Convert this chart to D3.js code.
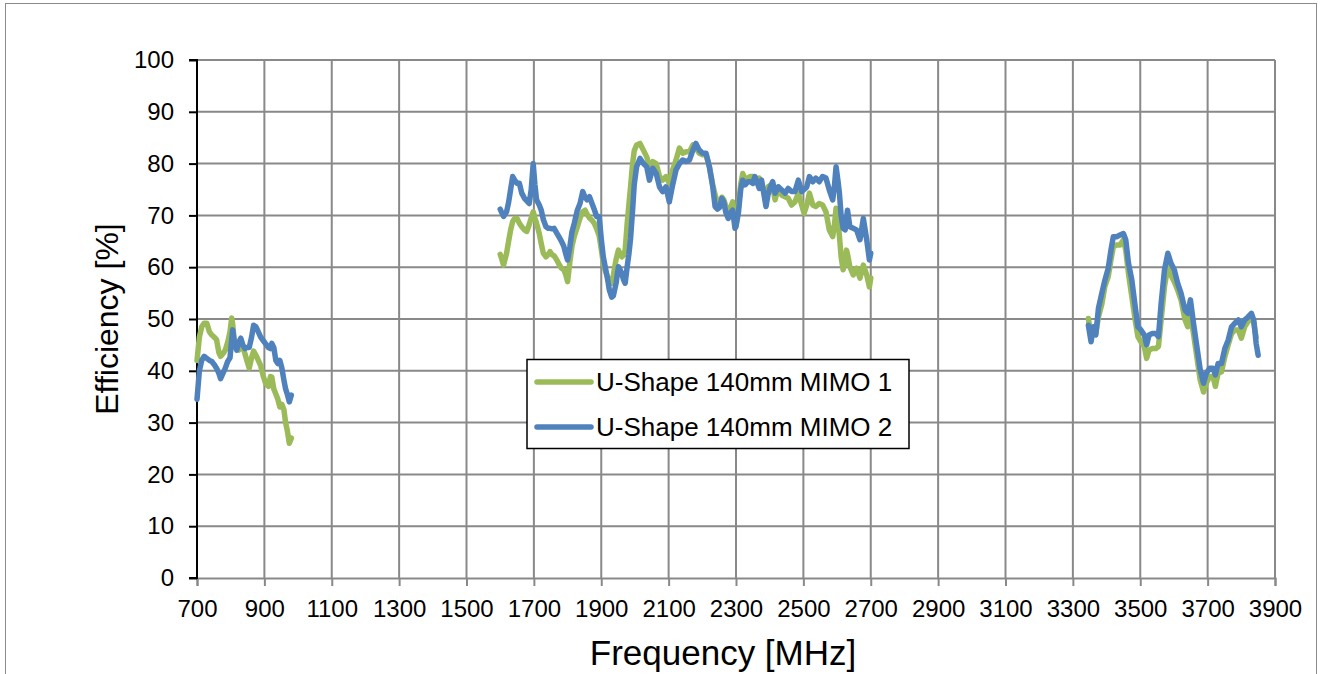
<!DOCTYPE html>
<html>
<head>
<meta charset="utf-8">
<script src="https://cdn.jsdelivr.net/npm/d3@7"></script>
<style>
  html, body { margin: 0; padding: 0; background: #fff; }
  svg { display: block; }
  text { font-family: "Liberation Sans", Arial, sans-serif; fill: #000; }
</style>
</head>
<body>
<svg id="chart" width="1320" height="674"></svg>
<script>
// Measured efficiency of two MIMO antennas (U-Shape 140 mm), three bands.
const seriesNames = ["U-Shape 140mm MIMO 1", "U-Shape 140mm MIMO 2"];
const seriesColors = ["#9BBB59", "#4F81BD"];

const xTicks = [700, 900, 1100, 1300, 1500, 1700, 1900, 2100, 2300, 2500, 2700, 2900, 3100, 3300, 3500, 3700, 3900];
const yTicks = [0, 10, 20, 30, 40, 50, 60, 70, 80, 90, 100];

// Low band 700-980 MHz
const lowFreq  = [700, 707, 714, 721, 729, 737, 744, 751, 758, 765, 770, 777, 784, 791, 798, 803, 806, 811, 818, 824, 830, 836, 842, 848, 855, 862, 868, 875, 882, 889, 897, 904, 912, 918, 922, 928, 934, 940, 946, 952, 958, 963, 968, 974, 980];
const lowMimo1 = [42, 46.5, 48.5, 49.2, 49.2, 47.5, 46.9, 46.5, 46, 43.5, 42.8, 43.3, 44, 45.5, 47.5, 50.2, 49, 45.5, 44.2, 44, 45, 44.5, 43.4, 42, 40.5, 42.5, 43.8, 43, 42, 41, 38.9, 37.5, 37, 38.9, 38.8, 36.5, 35.5, 34.5, 33, 33.5, 32.5, 30, 28.5, 26, 27];
const lowMimo2 = [34.5, 40, 42, 42.8, 42.4, 42, 41.8, 41.2, 40.5, 39.5, 38.5, 39.5, 40.5, 41.8, 42.5, 46, 47.9, 45.5, 44, 45.5, 46.3, 45, 44.3, 44.5, 44.5, 46.5, 48.8, 48.5, 47.5, 46.5, 45.8, 45.2, 44.5, 44.3, 45.3, 44.5, 42, 41.4, 42, 40.5, 38.2, 36.5, 35.5, 34, 35.3];

// Mid band 1600-2700 MHz
const midFreq  = [1600, 1605, 1610, 1619, 1625, 1631, 1637, 1643, 1650, 1657, 1664, 1672, 1679, 1686, 1692, 1698, 1703, 1708, 1716, 1722, 1728, 1736, 1743, 1748, 1754, 1760, 1768, 1775, 1782, 1789, 1795, 1800, 1807, 1813, 1820, 1829, 1837, 1845, 1852, 1858, 1865, 1872, 1879, 1886, 1894, 1900, 1906, 1912, 1918, 1924, 1931, 1936, 1944, 1951, 1956, 1961, 1966, 1971, 1977, 1982, 1987, 1993, 1998, 2005, 2015, 2025, 2035, 2043, 2053, 2063, 2073, 2082, 2092, 2102, 2112, 2122, 2132, 2142, 2152, 2162, 2172, 2181, 2191, 2201, 2211, 2221, 2231, 2238, 2245, 2251, 2258, 2264, 2270, 2277, 2284, 2290, 2297, 2300, 2307, 2314, 2320, 2327, 2335, 2342, 2350, 2356, 2362, 2369, 2376, 2383, 2389, 2395, 2402, 2409, 2416, 2426, 2436, 2446, 2455, 2465, 2475, 2485, 2495, 2502, 2510, 2518, 2528, 2537, 2547, 2557, 2567, 2577, 2587, 2592, 2597, 2603, 2607, 2612, 2618, 2624, 2628, 2631, 2638, 2648, 2658, 2668, 2678, 2688, 2696, 2700];
const midMimo1 = [62.5, 61.5, 60.4, 62.7, 65, 67.2, 68.8, 69.4, 69.4, 68.5, 67.8, 67.2, 66.9, 68.2, 69.5, 70.7, 69.5, 68.5, 66.5, 64.5, 62.7, 62, 62.5, 63, 62.4, 62.2, 61.4, 60.5, 59.8, 59.5, 58.5, 57.2, 61.1, 64, 66, 67.8, 69.5, 70.7, 71, 70.2, 69.5, 69.1, 68.5, 67.5, 66, 63.5, 60.8, 59.3, 58.2, 57.5, 56.9, 58.5, 61.5, 63.3, 62.5, 62, 62.3, 63.3, 68.5, 72, 75.5, 80, 82.5, 83.6, 83.9, 82.6, 81.3, 79.4, 80.4, 80, 77.5, 76.8, 77.5, 76.2, 78.8, 80.7, 83, 82, 82.3, 82.3, 83.6, 83, 82, 81.7, 81.7, 79.4, 75.9, 74, 72.5, 71.7, 73.5, 73, 71.7, 70.5, 71.5, 72.6, 69, 67.8, 71.5, 76, 78.1, 77, 77.2, 77.5, 77.5, 77, 77, 77.2, 75.5, 74.6, 74.3, 75.5, 75.8, 75.5, 73, 75.5, 73.9, 73.6, 73.3, 72, 72.6, 74.3, 72, 70.4, 72, 74.3, 72, 71.7, 72.3, 72, 70.7, 67.2, 65.9, 68, 71.4, 68.5, 66, 62, 59.5, 61.5, 63.3, 62.5, 60.1, 58.5, 59.8, 57.9, 60.4, 58.5, 56.2, 57.9];
const midMimo2 = [71.2, 70.5, 69.8, 70.7, 72.5, 75, 77.5, 76.8, 76.2, 76.2, 74.3, 73.3, 72.8, 72.3, 74.9, 80, 76, 73, 72, 71, 69.2, 67.8, 67.5, 67.5, 67.4, 67.5, 66.6, 65.8, 65, 64, 62.5, 61.4, 64, 66.8, 68.5, 71, 72.3, 74.6, 73.5, 73, 73.6, 72.4, 71.2, 69.8, 69.8, 65.5, 62, 60, 58, 55.6, 54.2, 54.5, 56.9, 60.1, 59.5, 58.8, 57.6, 56.9, 60.1, 62.5, 65.5, 71, 76, 79.4, 81, 80, 79.4, 76.8, 79.1, 78.1, 75.5, 74.6, 75.5, 72.6, 75.9, 78.8, 80, 80.7, 80.4, 80.7, 82.6, 83.9, 82.6, 82, 82, 79.4, 75.5, 71.7, 71.2, 71.5, 73.3, 72.5, 70.5, 69.4, 70.5, 71, 67.5, 68, 70.4, 75, 76.8, 75.9, 76.5, 76.5, 76.2, 77.5, 76.5, 75.2, 76.8, 74, 71.7, 74, 75.5, 76.5, 74.3, 75.5, 74.9, 74.3, 75.2, 74.6, 74.6, 76.8, 74.6, 75, 75.5, 77.5, 76.5, 77.2, 76.5, 77.5, 77.2, 74.9, 73, 75.5, 79.4, 76.5, 74.3, 70, 67.5, 67.2, 69.5, 71, 67.8, 67.5, 67.2, 65.3, 69.4, 65.3, 61.4, 62.7];

// High band 3346-3850 MHz
const highFreq  = [3346, 3354, 3361, 3368, 3376, 3386, 3395, 3405, 3413, 3420, 3430, 3440, 3450, 3457, 3465, 3475, 3485, 3493, 3502, 3512, 3519, 3526, 3536, 3546, 3554, 3562, 3572, 3582, 3591, 3601, 3611, 3621, 3633, 3641, 3649, 3658, 3668, 3678, 3688, 3696, 3706, 3716, 3723, 3731, 3741, 3751, 3761, 3771, 3781, 3791, 3800, 3810, 3820, 3830, 3837, 3844, 3850];
const highMimo1 = [50.1, 46.6, 47.9, 47.2, 50.4, 52.9, 56.3, 58.2, 61.4, 63.9, 64.3, 64.3, 65.3, 63.3, 58.8, 54.3, 49.8, 46.6, 45.6, 44.7, 42.4, 44, 44.3, 44.3, 44.7, 49.8, 56.3, 60.1, 58.5, 57.2, 55.6, 53.7, 49.8, 48.5, 51.1, 47.2, 42.7, 38.2, 35.9, 37.6, 38.9, 38.9, 37, 39.5, 39.8, 42.7, 45, 47.2, 47.9, 47.9, 46.3, 48.5, 49.5, 50.4, 49.2, 46.5, null];
const highMimo2 = [48.8, 45.6, 48.5, 46.9, 52.1, 55, 57.5, 59.8, 63.3, 65.9, 65.9, 66.2, 66.5, 65.3, 60.8, 57.5, 52.4, 48.5, 47.9, 46.9, 45, 46.9, 47.2, 47.2, 46.6, 53, 59.5, 62.7, 60.8, 59.5, 56.9, 55, 51.7, 51.1, 53.7, 49.2, 44.7, 40.2, 37.6, 39.5, 40.5, 40.5, 39.2, 41.4, 41.4, 44.3, 45.9, 48.5, 49.2, 49.8, 48.5, 49.8, 50.4, 51.1, 49.8, 45.3, 43];

const bands = [
  { freq: lowFreq,  values: [lowMimo1,  lowMimo2] },
  { freq: midFreq,  values: [midMimo1,  midMimo2] },
  { freq: highFreq, values: [highMimo1, highMimo2] }
];

const svg = d3.select("#chart");
const W = 1320, H = 674;
const plot = { left: 197, right: 1275, top: 60, bottom: 578 };

svg.append("rect").attr("width", W).attr("height", H).attr("fill", "#fff");
// chart frame
svg.append("rect")
  .attr("x", 5.5).attr("y", 3.5).attr("width", 1311).attr("height", 720)
  .attr("fill", "none").attr("stroke", "#8a8a8a").attr("stroke-width", 1);

const x = d3.scaleLinear().domain([700, 3900]).range([plot.left, plot.right]);
const y = d3.scaleLinear().domain([0, 100]).range([plot.bottom, plot.top]);

const gridColor = "#898989";

// horizontal gridlines
svg.append("g").selectAll("line").data(yTicks.filter(d => d > 0)).join("line")
  .attr("x1", plot.left).attr("x2", plot.right)
  .attr("y1", d => y(d)).attr("y2", d => y(d))
  .attr("stroke", gridColor).attr("stroke-width", 2);

// vertical gridlines
svg.append("g").selectAll("line").data(xTicks.filter(d => d > 700)).join("line")
  .attr("x1", d => x(d)).attr("x2", d => x(d))
  .attr("y1", plot.top).attr("y2", plot.bottom)
  .attr("stroke", gridColor).attr("stroke-width", 2);

// x axis (gray, ticks pointing down)
const xAxis = d3.axisBottom(x).tickValues(xTicks).tickSize(8).tickPadding(14).tickFormat(d3.format("d"));
const gx = svg.append("g").attr("transform", `translate(0,${plot.bottom})`).call(xAxis);
gx.select(".domain").attr("stroke", gridColor).attr("stroke-width", 2);
gx.selectAll(".tick line").attr("stroke", gridColor).attr("stroke-width", 2);
gx.selectAll(".tick text").attr("font-size", 24).attr("font-family", "Liberation Sans, Arial, sans-serif").attr("fill", "#000");

// y axis (black, ticks pointing left)
const yAxis = d3.axisLeft(y).tickValues(yTicks).tickSize(8).tickPadding(15).tickFormat(d3.format("d"));
const gy = svg.append("g").attr("transform", `translate(${plot.left},0)`).call(yAxis);
gy.select(".domain").attr("stroke", "#000").attr("stroke-width", 2).attr("d", `M-8,${plot.top}H0V${plot.bottom}H-8`);
gy.selectAll(".tick line").attr("stroke", "#000").attr("stroke-width", 2);
gy.selectAll(".tick text").attr("font-size", 24).attr("font-family", "Liberation Sans, Arial, sans-serif").attr("fill", "#000");

// series lines
const line = d3.line()
  .defined(d => d[1] != null)
  .x(d => x(d[0])).y(d => y(d[1]));

[0, 1].forEach(s => {
  bands.forEach(b => {
    const pts = b.freq.map((f, i) => [f, b.values[s][i]]);
    svg.append("path").datum(pts)
      .attr("d", line)
      .attr("fill", "none")
      .attr("stroke", seriesColors[s])
      .attr("stroke-width", 5.5)
      .attr("stroke-linejoin", "round")
      .attr("stroke-linecap", "round");
  });
});

// axis titles
svg.append("text")
  .attr("x", 723).attr("y", 665)
  .attr("text-anchor", "middle").attr("font-size", 35)
  .text("Frequency [MHz]");
svg.append("text")
  .attr("transform", `translate(118,${(plot.top + plot.bottom) / 2}) rotate(-90)`)
  .attr("text-anchor", "middle").attr("font-size", 32)
  .text("Efficiency [%]");

// legend
const lg = svg.append("g");
lg.append("rect")
  .attr("x", 527).attr("y", 359.5).attr("width", 382).attr("height", 89)
  .attr("fill", "#fff").attr("stroke", "#000").attr("stroke-width", 1.5);
seriesNames.forEach((name, i) => {
  const cy = 382 + i * 45;
  lg.append("line")
    .attr("x1", 537).attr("x2", 591).attr("y1", cy).attr("y2", cy)
    .attr("stroke", seriesColors[i]).attr("stroke-width", 5.5).attr("stroke-linecap", "round");
  lg.append("text")
    .attr("x", 596).attr("y", cy).attr("dy", "0.35em")
    .attr("font-size", 26)
    .text(name);
});
</script>
</body>
</html>
